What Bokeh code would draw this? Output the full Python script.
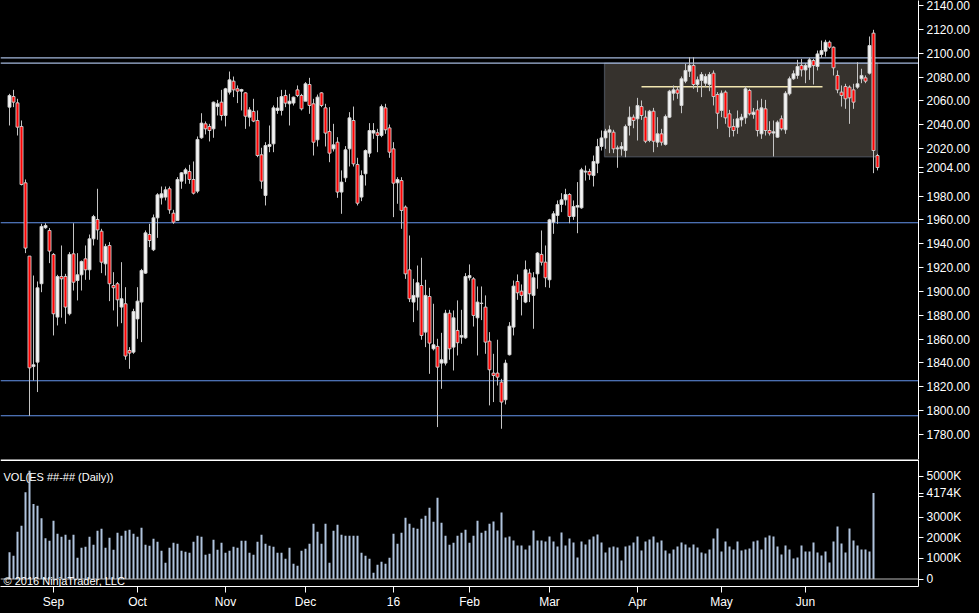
from bokeh.plotting import figure
from bokeh.models import (Range1d, FixedTicker, Span, BoxAnnotation, Label,
                          ColumnDataSource, PrintfTickFormatter)
from bokeh.layouts import column
from bokeh.embed import file_html
from bokeh.resources import INLINE

# ---------------- data (daily bars, index 0 = first bar) ----------------
OPEN = [2054.7, 2063.6, 2058.3, 2038.5, 1991.2, 1929.7, 1837.0, 1840.7, 1906.5, 1953.5,
        1951.2, 1931.1, 1878.5, 1912.6, 1912.6, 1881.3, 1931.6, 1909.2, 1914.0, 1927.4,
        1918.2, 1944.2, 1960.4, 1950.6, 1923.2, 1938.6, 1905.0, 1906.5, 1886.9, 1889.7,
        1850.5, 1849.1, 1877.0, 1891.1, 1915.4, 1947.8, 1935.0, 1961.8, 1978.6, 1979.2,
        1986.2, 1965.7, 1959.6, 1992.6, 1998.8, 2000.7, 1994.0, 1984.2, 2029.0, 2040.7,
        2038.5, 2036.5, 2055.2, 2058.9, 2047.7, 2067.3, 2076.5, 2070.1, 2068.1, 2066.7,
        2046.3, 2051.1, 2043.5, 2014.7, 1980.6, 2021.7, 2023.9, 2051.9, 2051.9, 2064.5,
        2057.5, 2058.1, 2069.2, 2064.5, 2059.7, 2073.7, 2057.5, 2027.3, 2066.7, 2054.1,
        2034.3, 2019.7, 2025.3, 1983.4, 1995.4, 2019.7, 2043.5, 2006.6, 1979.2, 1998.8,
        2016.1, 2032.9, 2033.2, 2030.9, 2054.1, 2037.3, 2019.7, 1991.2, 1993.1, 1970.8,
        1918.2, 1891.1, 1895.3, 1905.0, 1865.9, 1895.8, 1851.9, 1853.9, 1839.9, 1839.9,
        1881.8, 1853.3, 1867.3, 1861.7, 1861.1, 1911.5, 1910.6, 1877.9, 1890.2, 1886.9,
        1858.3, 1831.5, 1831.5, 1823.9, 1809.1, 1846.9, 1870.1, 1908.4, 1900.3, 1891.1,
        1915.4, 1896.7, 1914.8, 1931.1, 1924.6, 1909.8, 1958.2, 1963.8, 1973.0, 1976.9,
        1981.4, 1962.9, 1970.8, 1970.2, 2000.2, 2000.7, 1997.3, 2007.7, 2021.7, 2028.9,
        2033.7, 2033.7, 2019.7, 2019.7, 2018.3, 2039.3, 2046.3, 2044.9, 2055.2, 2046.3,
        2026.7, 2051.3, 2025.3, 2032.3, 2023.4, 2046.3, 2066.4, 2069.2, 2056.1, 2076.5,
        2084.9, 2089.7, 2073.7, 2077.1, 2074.8, 2073.7, 2083.2, 2065.3, 2051.9, 2067.3,
        2049.1, 2038.5, 2037.9, 2044.0, 2045.7, 2068.7, 2048.5, 2052.4, 2032.3, 2053.3,
        2035.1, 2032.9, 2029.5, 2044.9, 2035.7, 2065.9, 2078.5, 2081.3, 2089.7, 2085.9,
        2088.2, 2093.8, 2088.8, 2098.9, 2101.7, 2109.2, 2105.0, 2081.3, 2067.3, 2072.0,
        2071.5, 2069.2, 2071.5, 2078.5, 2079.3, 2083.2, 2116.8, 2014.1]

HIGH = [2065.9, 2069.2, 2061.7, 2043.5, 1994.0, 1929.7, 1913.4, 1908.4, 1956.8, 1957.3,
        1953.2, 1932.2, 1914.0, 1938.6, 1914.8, 1933.0, 1957.3, 1932.2, 1926.0, 1938.6,
        1947.8, 1964.3, 1986.2, 1952.6, 1940.0, 1941.4, 1916.2, 1907.9, 1924.6, 1903.6,
        1853.3, 1885.5, 1903.6, 1919.0, 1951.2, 1956.8, 1964.6, 1982.5, 1988.1, 1988.1,
        1988.1, 1968.5, 1996.0, 2000.2, 2003.8, 2006.3, 2009.1, 2030.1, 2049.6, 2042.7,
        2040.7, 2059.4, 2060.8, 2069.2, 2070.9, 2084.6, 2080.4, 2072.9, 2070.1, 2067.3,
        2054.7, 2061.7, 2051.9, 2020.6, 2025.3, 2039.3, 2056.1, 2063.1, 2069.2, 2069.2,
        2065.9, 2063.6, 2072.9, 2065.9, 2075.7, 2079.3, 2061.7, 2065.3, 2067.3, 2057.5,
        2054.7, 2040.7, 2029.5, 2001.6, 2022.0, 2050.5, 2055.2, 2012.2, 2001.6, 2019.2,
        2041.3, 2041.3, 2036.5, 2056.9, 2057.5, 2040.1, 2025.3, 1995.9, 1995.9, 1972.2,
        1947.0, 1910.6, 1921.8, 1928.3, 1909.8, 1903.1, 1889.7, 1860.3, 1865.3, 1884.6,
        1884.6, 1884.1, 1892.5, 1884.6, 1915.4, 1922.7, 1912.0, 1904.2, 1904.2, 1896.7,
        1865.9, 1847.7, 1859.5, 1826.7, 1842.7, 1874.3, 1909.2, 1914.3, 1905.9, 1926.0,
        1919.0, 1916.2, 1933.0, 1951.2, 1938.6, 1961.0, 1967.4, 1976.4, 1982.5, 1986.2,
        1982.5, 1976.4, 1991.8, 2003.8, 2005.7, 2003.0, 2014.1, 2028.1, 2035.1, 2036.5,
        2039.3, 2035.7, 2022.5, 2025.3, 2040.1, 2055.2, 2048.5, 2062.5, 2060.3, 2051.9,
        2052.4, 2054.1, 2046.3, 2036.5, 2048.5, 2069.2, 2072.9, 2072.0, 2080.4, 2091.1,
        2096.6, 2096.6, 2080.4, 2084.1, 2082.7, 2084.1, 2085.5, 2067.3, 2068.7, 2068.7,
        2052.4, 2044.9, 2051.9, 2049.1, 2072.0, 2070.1, 2054.0, 2060.3, 2061.7, 2060.8,
        2042.9, 2043.5, 2043.5, 2047.7, 2068.1, 2080.4, 2085.5, 2094.4, 2095.2, 2091.6,
        2096.1, 2095.2, 2102.2, 2110.6, 2111.2, 2110.6, 2105.6, 2085.5, 2072.9, 2074.3,
        2072.9, 2074.3, 2092.4, 2086.9, 2081.3, 2114.0, 2119.6, 2015.5]

LOW = [2039.3, 2054.7, 2030.9, 1989.0, 1932.2, 1795.7, 1825.3, 1815.6, 1899.4, 1952.6,
       1923.8, 1863.1, 1871.5, 1878.0, 1872.9, 1879.9, 1900.8, 1892.5, 1900.8, 1909.8,
       1909.8, 1938.6, 1943.4, 1915.4, 1913.4, 1891.9, 1884.1, 1870.6, 1873.4, 1842.7,
       1835.1, 1847.7, 1860.3, 1857.5, 1914.8, 1937.2, 1933.9, 1945.0, 1973.0, 1976.4,
       1965.2, 1956.8, 1959.6, 1986.2, 1990.4, 1990.4, 1981.4, 1982.5, 2028.1, 2031.8,
       2025.9, 2029.0, 2047.7, 2043.5, 2038.5, 2065.3, 2063.1, 2058.1, 2051.9, 2036.5,
       2038.5, 2042.1, 2012.7, 1986.2, 1972.2, 2016.9, 2016.9, 2049.1, 2047.7, 2054.7,
       2039.3, 2056.1, 2063.1, 2051.9, 2059.7, 2049.1, 2014.1, 2021.7, 2054.7, 2021.7,
       2008.5, 2017.5, 1978.6, 1965.2, 1991.8, 2004.9, 2004.9, 1972.2, 1975.8, 1988.9,
       2012.7, 2028.1, 2016.9, 2029.5, 2032.3, 2012.2, 1962.4, 1973.6, 1952.6, 1910.6,
       1891.1, 1874.3, 1884.1, 1859.5, 1853.3, 1830.9, 1850.5, 1786.2, 1818.3, 1837.9,
       1842.7, 1833.7, 1846.3, 1856.1, 1860.3, 1909.2, 1870.6, 1846.3, 1876.0, 1847.7,
       1804.4, 1807.2, 1821.1, 1784.8, 1805.2, 1846.3, 1863.1, 1893.0, 1879.9, 1890.2,
       1891.1, 1868.7, 1902.3, 1921.8, 1903.6, 1903.1, 1948.4, 1956.8, 1966.6, 1972.2,
       1957.3, 1960.1, 1948.9, 1969.4, 1993.1, 1993.7, 1988.1, 1999.3, 2018.3, 2019.7,
       2016.1, 2016.1, 2003.8, 2014.0, 2012.7, 2030.9, 2037.0, 2026.7, 2044.0, 2024.5,
       2025.3, 2016.9, 2021.1, 2022.5, 2022.5, 2045.7, 2060.3, 2061.7, 2049.6, 2074.8,
       2080.0, 2070.1, 2067.3, 2063.1, 2071.5, 2068.1, 2056.1, 2036.5, 2046.3, 2040.7,
       2029.5, 2030.1, 2032.3, 2038.5, 2040.7, 2047.7, 2045.0, 2030.1, 2028.1, 2030.9,
       2030.9, 2013.3, 2028.9, 2035.1, 2032.3, 2064.5, 2077.6, 2078.5, 2080.4, 2074.8,
       2077.6, 2073.7, 2085.5, 2096.1, 2097.2, 2103.6, 2081.3, 2066.4, 2055.2, 2053.3,
       2040.7, 2053.3, 2070.1, 2074.8, 2074.8, 2082.1, 1999.3, 2001.6]

CLOSE = [2064.5, 2058.9, 2037.9, 1989.8, 1936.4, 1835.9, 1838.5, 1903.1, 1954.6, 1955.4,
         1933.9, 1881.3, 1912.6, 1910.6, 1886.9, 1931.1, 1907.8, 1914.0, 1925.2, 1918.2,
         1944.2, 1962.9, 1951.7, 1924.6, 1937.8, 1906.5, 1903.1, 1893.0, 1893.9, 1845.8,
         1848.3, 1883.2, 1891.9, 1917.6, 1949.2, 1942.8, 1961.8, 1981.1, 1982.0, 1985.3,
         1968.5, 1958.2, 1994.0, 1999.6, 2002.1, 1994.0, 1982.5, 2027.6, 2041.3, 2036.5,
         2035.1, 2058.9, 2057.5, 2047.7, 2070.1, 2077.6, 2069.2, 2068.1, 2069.5, 2047.1,
         2052.4, 2043.0, 2014.1, 1992.6, 2022.5, 2023.4, 2054.1, 2053.9, 2063.6, 2058.1,
         2059.7, 2063.1, 2064.5, 2053.3, 2074.3, 2056.1, 2025.3, 2063.1, 2056.1, 2032.9,
         2016.1, 2023.1, 1983.4, 1991.8, 2018.9, 2045.7, 2007.1, 1974.1, 1997.3, 2018.3,
         2035.1, 2035.1, 2031.0, 2055.2, 2035.7, 2016.9, 1990.9, 1994.0, 1968.0, 1914.8,
         1893.9, 1896.7, 1907.3, 1863.1, 1896.7, 1856.7, 1855.3, 1836.5, 1842.7, 1881.8,
         1851.9, 1877.9, 1857.0, 1863.1, 1912.6, 1913.4, 1879.9, 1891.1, 1889.9, 1857.5,
         1834.3, 1829.5, 1828.1, 1807.2, 1839.9, 1870.9, 1904.5, 1898.9, 1896.7, 1918.2,
         1898.1, 1911.5, 1932.2, 1924.6, 1911.5, 1960.1, 1965.2, 1973.0, 1976.9, 1981.4,
         1962.9, 1971.3, 1972.2, 2002.1, 2001.0, 1997.9, 2009.1, 2021.7, 2028.9, 2034.6,
         2035.7, 2019.7, 2020.5, 2021.7, 2038.5, 2046.3, 2043.5, 2056.1, 2047.7, 2026.1,
         2051.3, 2026.1, 2032.3, 2025.3, 2046.9, 2068.1, 2069.2, 2066.4, 2078.5, 2085.5,
         2089.7, 2073.7, 2077.6, 2082.1, 2080.4, 2082.1, 2063.6, 2049.6, 2066.4, 2045.7,
         2037.9, 2035.1, 2044.9, 2046.3, 2070.1, 2049.1, 2050.5, 2035.1, 2054.1, 2035.1,
         2032.9, 2034.0, 2042.1, 2036.5, 2066.4, 2078.5, 2082.7, 2088.8, 2086.0, 2089.7,
         2094.4, 2089.6, 2099.4, 2102.2, 2109.2, 2105.0, 2087.7, 2069.2, 2064.5, 2061.7,
         2062.5, 2058.9, 2074.3, 2081.3, 2076.5, 2106.4, 2018.3, 2004.0]

VOLUME_K = [1294, 1133, 2298, 2589, 4207, 5259, 3641, 3560, 2945, 1974,
            1861, 2832, 2201, 2055, 2152, 1909, 2152, 1036, 1521, 1570,
            2055, 1667, 2346, 2443, 1521, 2006, 1424, 2249, 2104, 2346,
            2395, 2201, 2055, 2492, 1667, 1618, 1958, 1812, 1375, 793,
            1521, 1764, 1715, 1375, 1327, 1278, 1812, 2104, 2055, 1181,
            1230, 1909, 1424, 1764, 1278, 1375, 1570, 1521, 1861, 1861,
            1278, 1181, 1812, 2152, 1715, 1618, 1570, 1278, 1278, 987,
            1521, 744, 647, 1375, 1472, 1715, 2686, 2298, 1715, 2686,
            793, 2346, 2638, 2152, 2104, 2104, 2104, 2104, 1278, 1133,
            987, 307, 696, 841, 744, 1036, 2201, 1715, 2249, 2977,
            2686, 2492, 2443, 2929, 3074, 3463, 2783, 3948, 2735, 2104,
            1667, 1764, 2104, 2249, 2395, 1764, 2104, 2832, 2249, 2346,
            2686, 2792, 2354, 3231, 2013, 2062, 1867, 1623, 1623, 1429,
            1623, 2354, 1867, 1867, 1818, 2062, 1818, 1575, 2256, 1623,
            1964, 1769, 1039, 1818, 1672, 1916, 2062, 2159, 1769, 1282,
            1526, 1575, 1526, 893, 1575, 1623, 1769, 2062, 1380, 1818,
            1916, 2062, 1769, 1867, 1380, 1234, 1429, 1575, 1769, 1672,
            1526, 1672, 1526, 1282, 1234, 1429, 1964, 2451, 1331, 1818,
            1575, 1429, 1818, 1380, 1429, 1477, 1818, 1867, 1429, 2013,
            2110, 2062, 1575, 1185, 1623, 1429, 990, 1039, 1623, 1331,
            1331, 1769, 1282, 1136, 1331, 795, 1818, 2549, 1721, 1282,
            2451, 1867, 1623, 1429, 1429, 1331, 4174]

MONTH_TICK_BARS = [11, 32, 54, 74, 96, 115, 135, 157, 178, 199]
MONTH_LABELS = ["Sep", "Oct", "Nov", "Dec", "16", "Feb", "Mar", "Apr", "May", "Jun"]
PRICE_TICKS = [1780, 1800, 1820, 1840, 1860, 1880, 1900, 1920, 1940, 1960, 1980,
               2000, 2020, 2040, 2060, 2080, 2100, 2120, 2140]
VOL_TICKS = [0, 1000, 2000, 3000, 4000, 5000]
VOL_TICK_LABELS = ["0", "1000K", "2000K", "3000K", "4000K", "5000K"]

# drawn objects
UPPER_LINES = [2096.1, 2091.6]
SUPPORT_LINES = [1957.7, 1825.1, 1795.7]
RANGE_BOX = dict(first_bar=148.75, last_bar=217, low=2013.0, high=2091.6)
MID_LINE = dict(first_bar=158, last_bar=203.25, price=2071.8)
LAST_PRICE = CLOSE[-1]
LAST_VOLUME = VOLUME_K[-1]
PRICE_TICK_HIDDEN_BY_FLAG = 2000
VOL_TICK_HIDDEN_BY_FLAG = 4000

# ---------------- styling ----------------
FONT = "Liberation Sans"
BG = "#000000"
FRAME_W = 918
RIGHT_W = 61
PRICE_H = 459
VOL_FRAME_H = 127
BOTTOM_H = 27
X_START, X_END = -2.25, 227.25
PRICE_RANGE = (1759.0, 2144.2)
VOL_RANGE = (-364, 5801)

x_range = Range1d(X_START, X_END)


def style_axis(ax):
    ax.axis_line_color = "white"
    ax.major_tick_line_color = "white"
    ax.minor_tick_line_color = None
    ax.major_tick_out = 5
    ax.major_tick_in = 0
    ax.major_label_text_color = "white"
    ax.major_label_text_font = FONT
    ax.major_label_text_font_size = "12px"
    ax.major_label_standoff = 3


# ---------------- price panel ----------------
p1 = figure(width=FRAME_W + RIGHT_W, height=PRICE_H, x_range=x_range,
            y_range=Range1d(*PRICE_RANGE), y_axis_location="right",
            x_axis_location=None, toolbar_location=None, output_backend="svg",
            background_fill_color=BG, border_fill_color=BG, outline_line_color=None,
            min_border_left=0, min_border_right=RIGHT_W, min_border_top=0,
            min_border_bottom=0)
p1.xgrid.visible = False
p1.ygrid.visible = False
ya = p1.yaxis[0]
style_axis(ya)
ya.ticker = FixedTicker(ticks=PRICE_TICKS + [LAST_PRICE])
ya.formatter = PrintfTickFormatter(format="%.2f")
ya.major_label_overrides = {PRICE_TICK_HIDDEN_BY_FLAG: "", LAST_PRICE: "%.2f" % LAST_PRICE}

box = BoxAnnotation(left=RANGE_BOX["first_bar"], right=RANGE_BOX["last_bar"],
                    bottom=RANGE_BOX["low"], top=RANGE_BOX["high"],
                    fill_color="#36322d", fill_alpha=1.0,
                    line_color="#a9bddf", line_width=1.3, level="underlay")
p1.add_layout(box)
for lv in UPPER_LINES:
    p1.add_layout(Span(location=lv, dimension="width", line_color="#a4b8dc",
                       line_width=1.2, level="underlay"))
for lv in SUPPORT_LINES:
    p1.add_layout(Span(location=lv, dimension="width", line_color="#6495ed",
                       line_width=1.2, level="underlay"))

p1.line([MID_LINE["first_bar"], MID_LINE["last_bar"]],
        [MID_LINE["price"], MID_LINE["price"]], line_color="#f2e6b0", line_width=1.5)

n = len(OPEN)
src = ColumnDataSource(dict(
    x=list(range(n)), high=HIGH, low=LOW,
    top=[max(o, c) for o, c in zip(OPEN, CLOSE)],
    bottom=[min(o, c) for o, c in zip(OPEN, CLOSE)],
    fill=["#f4f4f4" if c >= o else "#ff0000" for o, c in zip(OPEN, CLOSE)],
))
p1.segment(x0="x", y0="low", x1="x", y1="high", source=src,
           line_color="#c4c4c4", line_width=1)
p1.vbar(x="x", top="top", bottom="bottom", width=0.75, source=src,
        fill_color="fill", line_color="#d0d0d0", line_width=0.9)

# ---------------- volume panel ----------------
p2 = figure(width=FRAME_W + RIGHT_W, height=VOL_FRAME_H + BOTTOM_H, x_range=x_range,
            y_range=Range1d(*VOL_RANGE), y_axis_location="right",
            toolbar_location=None, output_backend="svg",
            background_fill_color=BG, border_fill_color=BG, outline_line_color=None,
            min_border_left=0, min_border_right=RIGHT_W, min_border_top=0,
            min_border_bottom=BOTTOM_H)
p2.xgrid.visible = False
p2.ygrid.visible = False
va = p2.yaxis[0]
style_axis(va)
va.ticker = FixedTicker(ticks=VOL_TICKS + [LAST_VOLUME])
overrides = dict(zip(VOL_TICKS, VOL_TICK_LABELS))
overrides[VOL_TICK_HIDDEN_BY_FLAG] = ""
overrides[LAST_VOLUME] = "%dK" % LAST_VOLUME
va.major_label_overrides = overrides

xa = p2.xaxis[0]
style_axis(xa)
xa.major_tick_out = 6
xa.major_label_standoff = 2
xa.ticker = FixedTicker(ticks=MONTH_TICK_BARS)
xa.major_label_overrides = dict(zip(MONTH_TICK_BARS, MONTH_LABELS))

p2.add_layout(Span(location=VOL_RANGE[1], dimension="width", line_color="white", line_width=3))
p2.add_layout(Span(location=0, dimension="width", line_color="#b8b8b8", line_width=1))

vsrc = ColumnDataSource(dict(x=list(range(len(VOLUME_K))), vol=VOLUME_K))
p2.vbar(x="x", top="vol", bottom=0, width=0.5, source=vsrc,
        fill_color="#b0c4de", line_color=None)

p2.add_layout(Label(x=X_START + 0.75, y=4975, text="VOL(ES ##-## (Daily))",
                    text_color="white", text_font=FONT, text_font_size="11px",
                    text_baseline="middle", text_align="left"))
p2.add_layout(Label(x=X_START + 0.75, y=-120, text="\u00a9 2016 NinjaTrader, LLC",
                    text_color="white", text_font=FONT, text_font_size="11px",
                    text_baseline="middle", text_align="left"))

layout = column(p1, p2, spacing=0)
try:
    from bokeh.models import GlobalInlineStyleSheet
    layout.stylesheets = [GlobalInlineStyleSheet(css="html, body { background-color: #000000; }")]
except Exception:
    pass

open("out.html", "w").write(file_html(layout, INLINE))
